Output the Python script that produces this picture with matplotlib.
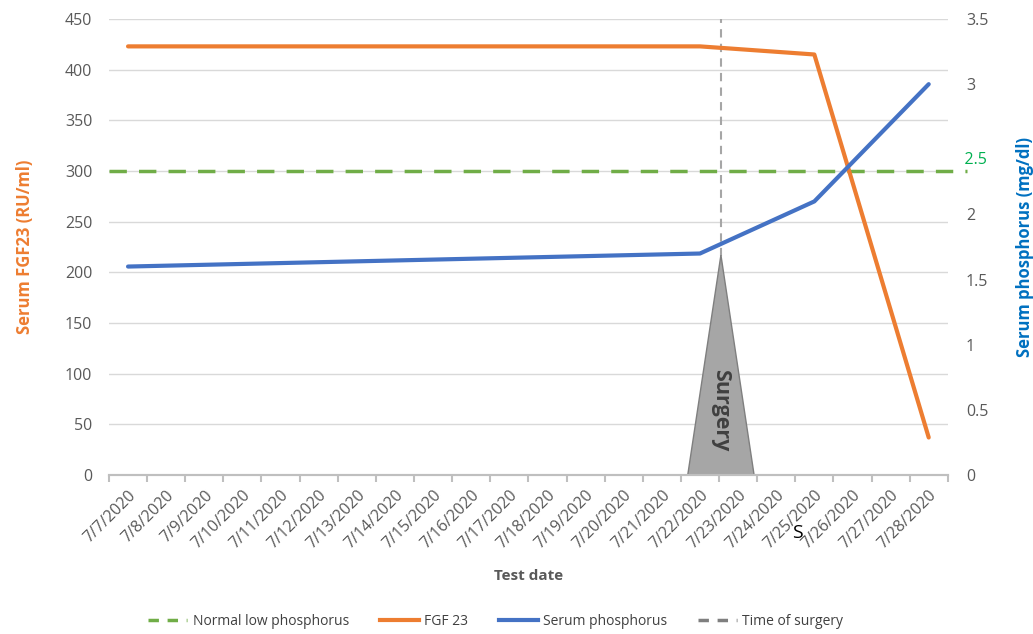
import matplotlib
matplotlib.use("Agg")
from matplotlib import pyplot as plt
from matplotlib.lines import Line2D
from matplotlib.patches import Polygon
import numpy as np

plt.rcParams['font.family'] = ['Open Sans', 'DejaVu Sans']

# Data
dates = ["7/%d/2020" % d for d in range(7, 29)]
fgf23_idx = [0, 15, 18, 21]
fgf23_vals = [423, 423, 415, 37]
phos_idx = [0, 15, 18, 21]
phos_vals = [1.6, 1.7, 2.1, 3.0]
normal_low = 300          # on FGF23 axis (right axis label 2.5)
surgery_x = 15.55         # between 7/22 and 7/23
surgery_peak = 217

ORANGE = "#ed7d31"
BLUE = "#4472c4"
GREEN = "#70ad47"
GRAY = "#595959"

fig = plt.figure(figsize=(10.33, 6.34), dpi=100)
ax = fig.add_axes([0.1055, 0.2508, 0.812, 0.7192])
ax2 = ax.twinx()

ax.set_xlim(-0.5, len(dates) - 0.5)
ax.set_ylim(0, 450)
ax2.set_ylim(0, 3.5)

ax.set_yticks(np.arange(0, 451, 50))
ax.grid(axis='y', color="#d9d9d9", linewidth=1)
ax.set_axisbelow(True)

# time of surgery + triangle marker
ax.plot([surgery_x, surgery_x], [0, 450], color="#a6a6a6", linestyle=(0, (4, 3)),
        linewidth=1.5, zorder=2)
tri = Polygon([[surgery_x - 0.87, 0], [surgery_x, surgery_peak], [surgery_x + 0.87, 0]],
              closed=True, facecolor="#a6a6a6", edgecolor="#7f7f7f", linewidth=1, zorder=3)
ax.add_patch(tri)
ax.text(surgery_x, 64, "Surgery", rotation=-90, ha='center', va='center',
        fontsize=15.5, fontweight='bold', color="#404040", zorder=4)

# normal low phosphorus line (runs a bit past the plot area)
ax.plot([-0.5, 22.0], [normal_low, normal_low], color=GREEN, linestyle=(0, (5, 3.5)),
        linewidth=2.5, clip_on=False, zorder=3)

ax.plot(fgf23_idx, fgf23_vals, color=ORANGE, linewidth=3, solid_capstyle='round', zorder=4)
ax2.plot(phos_idx, phos_vals, color=BLUE, linewidth=3, solid_capstyle='round', zorder=5)

ax.set_xticks(np.arange(len(dates)))
ax.set_xticklabels(dates, rotation=45, ha='right', rotation_mode='anchor',
                   fontsize=11.5, color=GRAY)
ax.set_xticks(np.arange(-0.5, len(dates)), minor=True)
ax.tick_params(axis='x', which='major', length=0, pad=9)
ax.tick_params(axis='x', which='minor', length=5, color="#bfbfbf", width=1.5)
ax.tick_params(axis='y', length=0, labelsize=11.5, labelcolor=GRAY, pad=12)

r_ticks = [0, 0.5, 1, 1.5, 2, 3, 3.5]
ax2.set_yticks(r_ticks)
ax2.set_yticklabels(["0", "0.5", "1", "1.5", "2", "3", "3.5"])
ax2.tick_params(axis='y', length=0, labelsize=11.5, labelcolor=GRAY, pad=13)
ax2.text(1.0, 2.42, "    2.5", transform=ax2.get_yaxis_transform(), color="#00b050",
         fontsize=11.5, va='center', ha='left')

for a in (ax, ax2):
    for s in ('top', 'left', 'right'):
        a.spines[s].set_visible(False)
    a.spines['bottom'].set_color("#bfbfbf")
    a.spines['bottom'].set_linewidth(1.5)

ax.set_ylabel("Serum FGF23 (RU/ml)", color=ORANGE, fontsize=12, fontweight='bold', labelpad=22)
ax2.set_ylabel("Serum phosphorus (mg/dl)", color="#0070c0", fontsize=12, fontweight='bold',
               labelpad=20)
ax.set_xlabel("Test date", color=GRAY, fontsize=11, fontweight='bold', labelpad=12)

fig.text(797 / 1033, 1 - 533 / 634, "S", fontsize=14, color="black", ha='center', va='center')

handles = [
    Line2D([], [], color=GREEN, linestyle=(0, (3, 2.5)), linewidth=2.5),
    Line2D([], [], color=ORANGE, linewidth=3),
    Line2D([], [], color=BLUE, linewidth=3),
    Line2D([], [], color="#7f7f7f", linestyle=(0, (3, 2.5)), linewidth=2.5),
]
labels = ["Normal low phosphorus", "FGF 23", "Serum phosphorus", "Time of surgery"]
fig.legend(handles, labels, loc='center', bbox_to_anchor=(0.48, 0.02), ncol=4,
           frameon=False, fontsize=10, handlelength=2.8, handletextpad=0.4,
           columnspacing=2.2, labelcolor="#404040")

fig.savefig("out.png", dpi=100)
